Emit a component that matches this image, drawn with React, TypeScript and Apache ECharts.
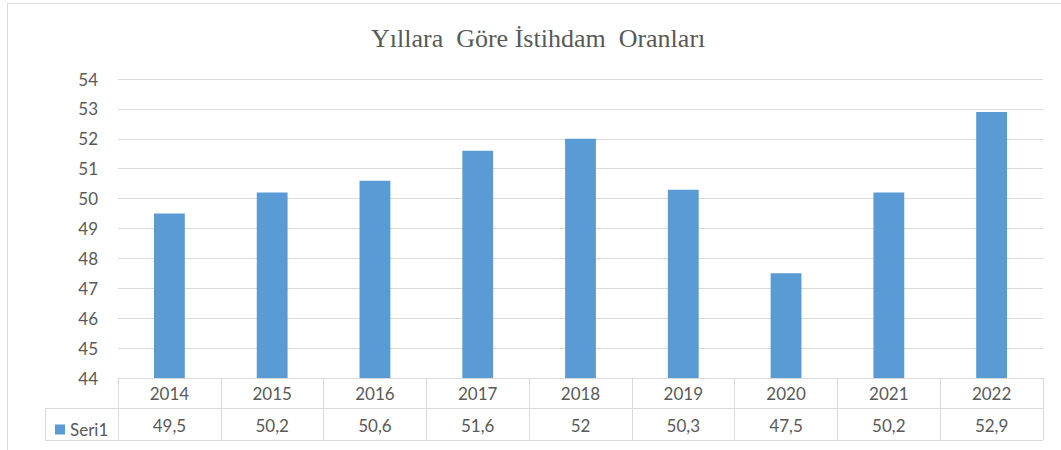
import React, { useEffect, useRef } from "react";
import * as echarts from "echarts";

const title = "Yıllara  Göre İstihdam  Oranları";
const seriesName = "Seri1";
const categories = ["2014", "2015", "2016", "2017", "2018", "2019", "2020", "2021", "2022"];
const values = [49.5, 50.2, 50.6, 51.6, 52, 50.3, 47.5, 50.2, 52.9];
const yMin = 44;
const yMax = 54;
const yInterval = 1;

const valueLabels = values.map((v) => String(v).replace(".", ","));

const GRID_COLOR = "#D9D9D9";
const TEXT_COLOR = "#595959";
const BAR_COLOR = "#5B9BD5";
const FONT = "Lato, 'Open Sans', sans-serif";

export default function App() {
  const ref = useRef<HTMLDivElement>(null);
  useEffect(() => {
    if (!ref.current) return;
    const chart = echarts.init(ref.current, undefined, { renderer: "svg" });
    chart.setOption({
      animation: false,
      backgroundColor: "#ffffff",
      title: {
        text: title,
        left: 366,
        top: 20,
        textStyle: {
          fontFamily: "'Liberation Serif', 'Times New Roman', serif",
          fontSize: 26,
          fontWeight: "normal",
          color: TEXT_COLOR,
        },
      },
      legend: {
        left: 50,
        top: 416,
        icon: "rect",
        itemWidth: 10,
        itemHeight: 10,
        textStyle: { fontFamily: FONT, fontSize: 17, color: TEXT_COLOR },
        data: [seriesName],
      },
      grid: { left: 118, right: 18, top: 79, bottom: 72 },
      xAxis: [
        {
          type: "category",
          data: categories,
          position: "bottom",
          axisLine: { show: true, lineStyle: { color: GRID_COLOR, width: 1 } },
          axisTick: { show: true, length: 62, interval: 0, lineStyle: { color: GRID_COLOR, width: 1 } },
          axisLabel: { margin: 7, fontFamily: FONT, fontSize: 17, color: TEXT_COLOR, interval: 0 },
        },
        {
          type: "category",
          data: valueLabels,
          position: "bottom",
          offset: 31,
          axisLine: { show: false },
          axisTick: { show: false },
          axisLabel: { margin: 8, fontFamily: FONT, fontSize: 17, color: TEXT_COLOR, interval: 0 },
        },
      ],
      yAxis: {
        type: "value",
        min: yMin,
        max: yMax,
        interval: yInterval,
        axisLine: { show: false },
        axisTick: { show: false },
        splitLine: { lineStyle: { color: GRID_COLOR, width: 1 } },
        axisLabel: { margin: 20, fontFamily: FONT, fontSize: 17, color: TEXT_COLOR },
      },
      series: [
        {
          name: seriesName,
          type: "bar",
          xAxisIndex: 0,
          data: values,
          barWidth: "30%",
          itemStyle: { color: BAR_COLOR },
        },
      ],
      graphic: [
        {
          type: "rect",
          shape: { x: 7.5, y: 3.5, width: 1100, height: 500 },
          style: { fill: "none", stroke: GRID_COLOR, lineWidth: 1 },
          silent: true,
        },
        {
          type: "line",
          shape: { x1: 45, y1: 408.5, x2: 1043, y2: 408.5 },
          style: { stroke: GRID_COLOR, lineWidth: 1 },
          silent: true,
        },
        {
          type: "line",
          shape: { x1: 45, y1: 440.5, x2: 1043, y2: 440.5 },
          style: { stroke: GRID_COLOR, lineWidth: 1 },
          silent: true,
        },
        {
          type: "line",
          shape: { x1: 45.5, y1: 408, x2: 45.5, y2: 441 },
          style: { stroke: GRID_COLOR, lineWidth: 1 },
          silent: true,
        },
      ],
    });
    return () => chart.dispose();
  }, []);
  return (
    <div
      ref={ref}
      style={{ position: "fixed", left: 0, top: 0, width: 1061, height: 450 }}
    />
  );
}
